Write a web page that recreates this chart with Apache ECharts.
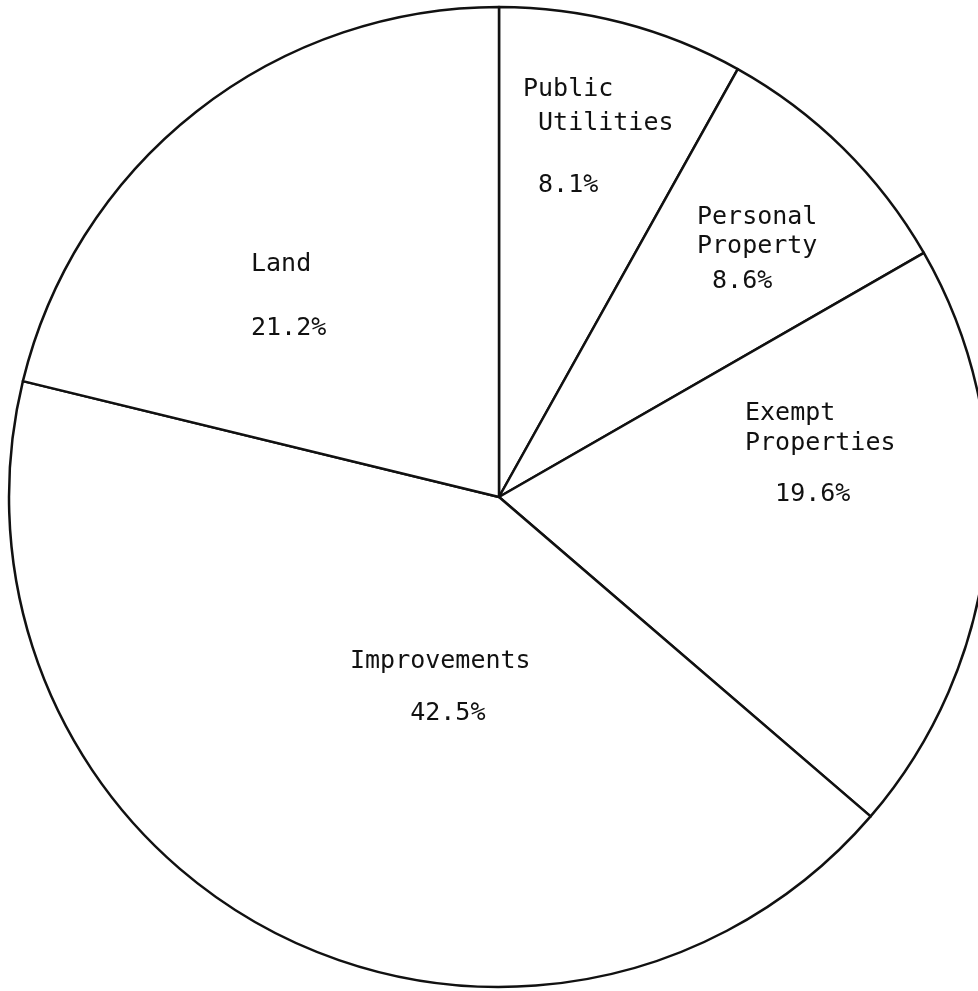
<!DOCTYPE html>
<html>
<head>
<meta charset="utf-8">
<script src="https://cdn.jsdelivr.net/npm/echarts@6/dist/echarts.min.js"></script>
<style>
    html, body { margin: 0; padding: 0; background: #fff; }
    #chart { width: 978px; height: 991px; }
</style>
</head>
<body>
<div id="chart"></div>
<script>
// slices, clockwise from 12 o'clock
const categories = ["Public Utilities", "Personal Property", "Exempt Properties", "Improvements", "Land"];
const values = [8.1, 8.6, 19.6, 42.5, 21.2];
const labelNames = ["Public\n Utilities", "Personal\nProperty", "Exempt\nProperties", "Improvements", "Land"];

// label placement: left x, baseline of first line, line pitch, gap to percent, percent indent (chars)
const labelSpots = [
    [523, 98, 34, 62, 1],
    [697, 226, 29, 35, 1],
    [745, 422, 30, 51, 2],
    [350, 670, 30, 52, 4],
    [251, 273, 30, 64, 0]
];

const FONT = "DejaVu Sans Mono";
const FS = 25;

const chart = echarts.init(document.getElementById("chart"));

const pieData = categories.map(function(name, i) {
    const s = labelSpots[i];
    const textStyle = { fontFamily: FONT, fontSize: FS, color: "#111" };
    return {
        name: name,
        value: values[i],
        label: {
            rich: {
                n: Object.assign({ lineHeight: s[2] }, textStyle),
                p: Object.assign({ lineHeight: 2 * s[3] - s[2] }, textStyle)
            }
        }
    };
});

chart.setOption({
    backgroundColor: "#fff",
    animation: false,
    series: [
        {
            type: "pie",
            center: [499, 497],
            radius: 490,
            startAngle: 90,
            clockwise: true,
            avoidLabelOverlap: false,
            silent: true,
            itemStyle: {
                color: "#fff",
                borderColor: "#111",
                borderWidth: 2.5
            },
            label: {
                show: true,
                position: "inside",
                formatter(params) {
                    const i = params.dataIndex;
                    const lines = labelNames[i].split("\n").map(function(t) {
                        return "{n|" + t + "}";
                    });
                    const pct = " ".repeat(labelSpots[i][4]) + values[i].toFixed(1) + "%";
                    lines.push("{p|" + pct + "}");
                    return lines.join("\n");
                }
            },
            labelLayout(params) {
                const s = labelSpots[params.dataIndex];
                return {
                    x: s[0],
                    y: s[1] - s[2] / 2 - 9,
                    align: "left",
                    verticalAlign: "top"
                };
            },
            data: pieData
        }
    ]
});
</script>
</body>
</html>
